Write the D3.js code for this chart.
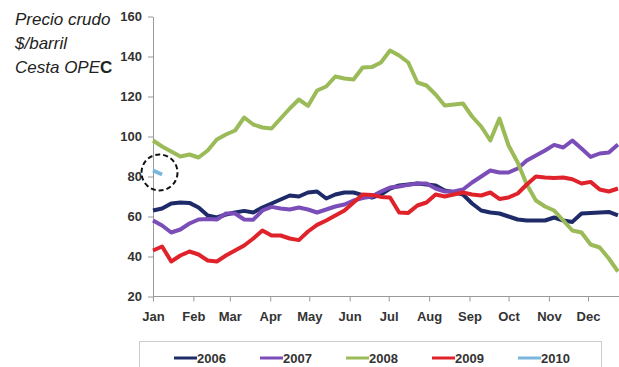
<!DOCTYPE html>
<html>
<head>
<meta charset="utf-8">
<script src="https://cdn.jsdelivr.net/npm/d3@7"></script>
<style>
  body { margin: 0; background: #fff; }
  text { font-family: "Liberation Sans", Arial, sans-serif; }
</style>
</head>
<body>
<div id="chart"></div>
<script>
// weekly OPEC basket prices, one value per week starting Jan 1
var months = ["Jan","Feb","Mar","Apr","May","Jun","Jul","Aug","Sep","Oct","Nov","Dec"];
var monthDays = [0,31,59,90,120,151,181,212,243,273,304,334];
var yTicks = [20,40,60,80,100,120,140,160];
var years = ["2006","2007","2008","2009","2010"];

var s2006 = [63,64,66.5,67,66.8,64.5,60.5,59.5,61,62,62.8,62,64.5,66.5,68.5,70.5,70,72,72.5,69,71,72,72,70.7,69.5,71,
             74,75.5,76,76.5,76,75.5,73,72.2,71,66.5,63,62,61.5,60,58.5,58,58,58,59.5,58,57.3,61.5,61.8,62,62.3,60.6];
var s2007 = [58,55.5,52,53.5,56.5,58.5,58.8,58.5,61.5,61.5,58.5,58.4,63,64.8,64,63.5,64.5,63.5,62,63.5,65,66,68,69.2,70,72.5,
             74.5,75,75.8,76.5,76.5,74,72.5,72.5,73.5,77,80,83,82,82,84,88,90.5,93,95.8,94.5,98,94,89.8,91.5,92,96];
var s2008 = [98,95,92.5,90,91,89.5,93,98.5,101,103,109.5,106,104.5,104,109,114,118.5,115.3,123,125,130,129,128.5,134.5,134.7,137,
             143,140.5,137,127,125.5,121,115.5,116,116.5,110,105,98,109,95.5,87,76,68,65,63,58,53,52,46,44.5,39,32.5];
var s2009 = [43,45,37.5,40.5,42.5,41,38,37.5,40.5,43,45.5,49,53,50.5,50.5,49,48.2,52.5,55.8,58,60.5,63,67,71,70.8,69.8,
             69.5,62,61.8,65.5,67,71,70,71,72,71,70.5,72,68.8,69.5,71.5,76,80,79.5,79.3,79.5,78.6,76.5,77.3,73.5,72.5,74];
var s2010 = [83,81];

var colors = ["#1f2b68","#7a4db8","#9bbb59","#e0232b","#79b7dd"];
var series = [s2006, s2007, s2008, s2009, s2010];

var width = 619, height = 367;

var svg = d3.select("#chart")
  .append("svg")
    .attr("width", width)
    .attr("height", height);

var x = d3.scaleLinear()
  .domain([0, 334])
  .range([153, 588]);

var y = d3.scaleLinear()
  .domain([20, 160])
  .range([296.5, 16.5]);

// title
var title = svg.append("text")
  .attr("x", 15)
  .attr("y", 25)
  .style("font-size", "17px")
  .style("font-style", "italic")
  .attr("fill", "#222");
title.append("tspan").attr("x", 15).attr("dy", 0).text("Precio crudo");
title.append("tspan").attr("x", 15).attr("dy", 24).text("$/barril");
var l3 = title.append("tspan").attr("x", 15).attr("dy", 24).text("Cesta OPE");
title.append("tspan").style("font-style", "normal").style("font-weight", "bold").text("C");

// Y axis
var yAxis = svg.append("g")
  .attr("transform", "translate(153,0)")
  .call(d3.axisLeft(y).tickValues(yTicks).tickSize(5).tickSizeOuter(0).tickPadding(6));
yAxis.select(".domain").attr("stroke", "#999");
yAxis.selectAll(".tick line").attr("stroke", "#999");
yAxis.selectAll("text")
  .style("font-size", "13px")
  .style("font-weight", "bold")
  .attr("fill", "#333");

// X axis
var xAxis = svg.append("g")
  .attr("transform", "translate(0,296.5)")
  .call(d3.axisBottom(x).tickValues(monthDays).tickFormat((d, i) => months[i]).tickSize(5).tickSizeOuter(0).tickPadding(10));
xAxis.select(".domain").attr("d", "M153,0H619").attr("stroke", "#999");
xAxis.selectAll(".tick line").attr("stroke", "#999");
xAxis.selectAll("text")
  .style("font-size", "13px")
  .style("font-weight", "bold")
  .attr("fill", "#333");

// lines
var line = d3.line()
  .x((d, i) => x(i * 7))
  .y(d => y(d));

series.forEach(function(s, k) {
  svg.append("path")
    .datum(s)
    .attr("d", line)
    .attr("fill", "none")
    .attr("stroke", colors[k])
    .attr("stroke-width", 4)
    .attr("stroke-linejoin", "round");
});

// dashed circle around 2010
svg.append("circle")
  .attr("cx", x(5))
  .attr("cy", y(82))
  .attr("r", 18)
  .attr("fill", "none")
  .attr("stroke", "#111")
  .attr("stroke-width", 2)
  .attr("stroke-dasharray", "5,3");

// legend
svg.append("rect")
  .attr("x", 139.5)
  .attr("y", 341.5)
  .attr("width", 462)
  .attr("height", 40)
  .attr("fill", "#fff")
  .attr("stroke", "#ccc");

var leg = svg.selectAll(".leg")
  .data(years)
  .enter()
  .append("g")
    .attr("transform", (d, i) => "translate(" + (174 + i * 86) + ",358)");
leg.append("line")
  .attr("x1", 0).attr("x2", 23)
  .attr("stroke", (d, i) => colors[i])
  .attr("stroke-width", 3);
leg.append("text")
  .attr("x", 23)
  .attr("dy", "0.35em")
  .style("font-size", "13px")
  .style("font-weight", "bold")
  .attr("fill", "#333")
  .text(d => d);
</script>
</body>
</html>
